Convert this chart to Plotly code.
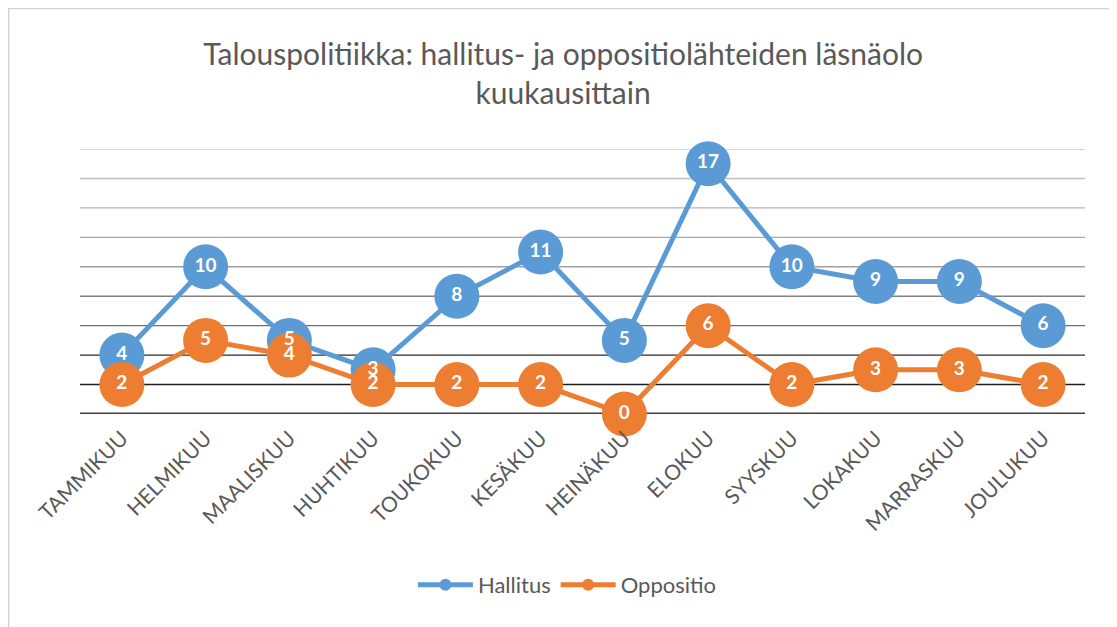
import plotly.graph_objects as go

months = ["TAMMIKUU", "HELMIKUU", "MAALISKUU", "HUHTIKUU", "TOUKOKUU", "KESÄKUU",
          "HEINÄKUU", "ELOKUU", "SYYSKUU", "LOKAKUU", "MARRASKUU", "JOULUKUU"]
hallitus = [4, 10, 5, 3, 8, 11, 5, 17, 10, 9, 9, 6]
oppositio = [2, 5, 4, 2, 2, 2, 0, 6, 2, 3, 3, 2]
grid_values = [0, 2, 4, 6, 8, 10, 12, 14, 16, 18]
title_text = "Talouspolitiikka: hallitus- ja oppositiolähteiden läsnäolo<br>kuukausittain"

BLUE = "#5B9BD5"
ORANGE = "#ED7D31"
FONT = "Lato, 'Open Sans', sans-serif"
grid_colors = ["#404040", "#1e1e1e", "#2a2a2a", "#707070", "#808080",
               "#a0a0a0", "#a8a8a8", "#b4b4b4", "#c0c0c0", "#c8c8c8"]

fig = go.Figure()
fig.add_trace(go.Scatter(x=months, y=hallitus, name="Hallitus", mode="lines+markers",
                         line=dict(color=BLUE, width=5),
                         marker=dict(size=45, color=BLUE), cliponaxis=False))
fig.add_trace(go.Scatter(x=months, y=oppositio, name="Oppositio", mode="lines+markers",
                         line=dict(color=ORANGE, width=5),
                         marker=dict(size=45, color=ORANGE), cliponaxis=False))
for vals in (hallitus, oppositio):
    fig.add_trace(go.Scatter(x=months, y=vals, mode="text", text=[str(v) for v in vals],
                             textposition="middle center", showlegend=False,
                             textfont=dict(color="white", size=19, family=FONT, weight="bold"),
                             cliponaxis=False, hoverinfo="skip"))

for v, c in zip(grid_values, grid_colors):
    fig.add_shape(type="line", xref="paper", yref="y", x0=0, x1=1, y0=v, y1=v,
                  line=dict(color=c, width=3 if v == 0 else 1.4), layer="below")

fig.add_shape(type="rect", xref="paper", yref="paper", x0=-0.0711, x1=1.2,
              y0=-1.5, y1=1.530, line=dict(color="#d0d0d0", width=1.5), layer="below")

fig.update_layout(
    width=1117, height=627,
    paper_bgcolor="white", plot_bgcolor="white",
    margin=dict(l=72, r=40, t=141, b=221, autoexpand=False),
    title=dict(text=title_text, x=0.497, xanchor="center", xref="container",
               y=0.909, yanchor="middle", yref="container",
               font=dict(family=FONT, size=30, color="#595959")),
    xaxis=dict(showgrid=False, zeroline=False, showline=False, tickangle=-45,
               tickfont=dict(family=FONT, size=21, color="#595959"),
               range=[-0.5, 11.5], ticks="", automargin=False, ticklabelstandoff=7),
    yaxis=dict(showgrid=False, zeroline=False, showline=False, showticklabels=False,
               range=[0, 18], automargin=False),
    legend=dict(orientation="h", x=0.485, xanchor="center", y=-0.645, yanchor="middle",
                font=dict(family=FONT, size=22, color="#595959"), itemsizing="constant",
                itemwidth=55),
    showlegend=True,
)

fig.write_html("out.html")
